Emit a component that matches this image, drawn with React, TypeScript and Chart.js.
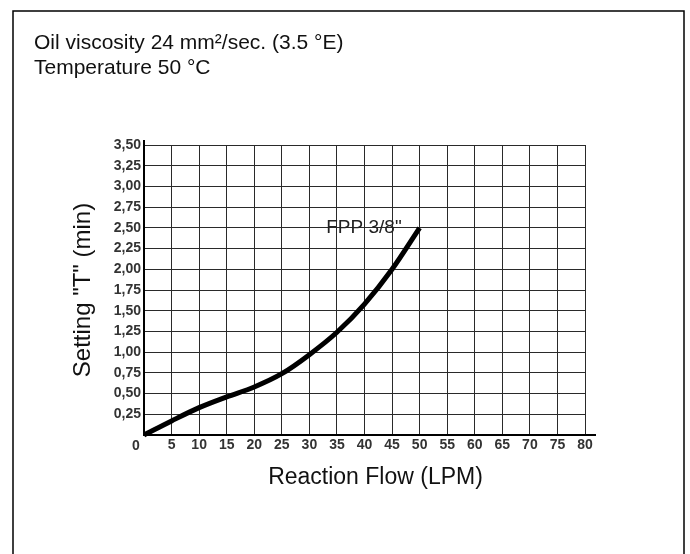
import React, { useEffect, useRef } from 'react';
import { Chart, registerables } from 'chart.js';

Chart.register(...registerables);

// ---- data ----
const flowLPM = [0, 5, 10, 15, 20, 25, 30, 35, 40, 45, 50];
const settingT = [0, 0.17, 0.33, 0.46, 0.58, 0.74, 0.97, 1.24, 1.58, 2.0, 2.5];
const seriesLabel = 'FPP 3/8"';
const titleLines = ['Oil viscosity 24 mm\u00B2/sec. (3.5 \u00B0E)', 'Temperature 50 \u00B0C'];
const xTitle = 'Reaction Flow (LPM)';
const yTitle = 'Setting "T" (min)';
const xMin = 0;
const xMax = 80;
const xStep = 5;
const yMin = 0;
const yMax = 3.5;
const yStep = 0.25;

const tickFamily = '"Liberation Sans Narrow", "Liberation Sans", Arial, sans-serif';
const fmtY = (v: number) => (v === 0 ? '' : v.toFixed(2).replace('.', ','));
const fmtX = (v: number) => (v === 0 ? '' : String(v));

const decorPlugin = {
  id: 'decor',
  beforeDraw(chart: any) {
    const { ctx, width, height } = chart;
    ctx.save();
    ctx.fillStyle = '#ffffff';
    ctx.fillRect(0, 0, width, height);
    ctx.strokeStyle = '#000000';
    ctx.lineWidth = 1.5;
    ctx.strokeRect(13, 11, 671, 620);
    ctx.restore();
  },
  afterDatasetsDraw(chart: any) {
    const { ctx, chartArea, scales } = chart;
    const xs = scales.x;
    const ys = scales.y;
    ctx.save();
    // axis lines
    ctx.strokeStyle = '#000000';
    ctx.lineWidth = 2;
    ctx.beginPath();
    ctx.moveTo(chartArea.left, chartArea.top - 5);
    ctx.lineTo(chartArea.left, chartArea.bottom);
    ctx.lineTo(chartArea.right + 11, chartArea.bottom);
    ctx.stroke();
    // shared origin label
    ctx.fillStyle = '#333333';
    ctx.font = 'bold 14px ' + tickFamily;
    ctx.textAlign = 'center';
    ctx.textBaseline = 'middle';
    ctx.fillText('0', chartArea.left - 8, chartArea.bottom + 11);
    // series label near curve end
    const lastX = flowLPM[flowLPM.length - 1];
    const lastY = settingT[settingT.length - 1];
    ctx.font = '19px "Liberation Sans", Arial, sans-serif';
    ctx.fillStyle = '#222222';
    ctx.textAlign = 'right';
    ctx.textBaseline = 'alphabetic';
    ctx.fillText(seriesLabel, xs.getPixelForValue(lastX) - 18, ys.getPixelForValue(lastY) + 5);
    // x-axis title (slightly right of plot centre, as in the reference)
    ctx.font = '23px "Liberation Sans", Arial, sans-serif';
    ctx.fillStyle = '#111111';
    ctx.textAlign = 'center';
    ctx.textBaseline = 'middle';
    ctx.fillText(xTitle, (chartArea.left + chartArea.right) / 2 + 11, chartArea.bottom + 43);
    // header text
    ctx.font = '21px "Liberation Sans", Arial, sans-serif';
    ctx.textAlign = 'left';
    ctx.textBaseline = 'alphabetic';
    ctx.fillText(titleLines[0], 34, 49);
    ctx.fillText(titleLines[1], 34, 74);
    ctx.restore();
  },
};

export default function App() {
  const ref = useRef<HTMLCanvasElement | null>(null);
  useEffect(() => {
    if (!ref.current) return;
    Chart.defaults.font.family = '"Liberation Sans", Arial, sans-serif';
    const chart = new Chart(ref.current, {
      type: 'scatter',
      data: {
        datasets: [
          {
            label: seriesLabel,
            data: flowLPM.map((x, i) => ({ x, y: settingT[i] })),
            showLine: true,
            borderColor: '#000000',
            backgroundColor: '#000000',
            borderWidth: 5,
            pointRadius: 0,
            cubicInterpolationMode: 'monotone',
            clip: false as any,
          } as any,
        ],
      },
      options: {
        animation: false,
        responsive: false,
        layout: { padding: { left: 60, top: 145, right: 105, bottom: 59 } },
        plugins: { legend: { display: false }, tooltip: { enabled: false } },
        scales: {
          x: {
            type: 'linear',
            min: xMin,
            max: xMax,
            afterFit: (s: any) => {
              s.height = 60;
            },
            ticks: {
              stepSize: xStep,
              autoSkip: false,
              maxRotation: 0,
              padding: 2,
              color: '#333333',
              font: { size: 14, weight: 'bold', family: tickFamily },
              callback: (v: any) => fmtX(Number(v)),
            },
            grid: { color: '#2a2a2a', lineWidth: 1, drawTicks: false },
            border: { display: false },
            title: { display: false, text: xTitle },
          },
          y: {
            type: 'linear',
            min: yMin,
            max: yMax,
            afterFit: (s: any) => {
              s.width = 84;
            },
            ticks: {
              stepSize: yStep,
              autoSkip: false,
              padding: 3,
              color: '#333333',
              font: { size: 14, weight: 'bold', family: tickFamily },
              callback: (v: any) => fmtY(Number(v)),
            },
            grid: { color: '#2a2a2a', lineWidth: 1, drawTicks: false },
            border: { display: false },
            title: {
              display: true,
              text: yTitle,
              color: '#111111',
              font: { size: 24 },
              padding: { top: 9, bottom: 4 },
            },
          },
        },
      },
      plugins: [decorPlugin],
    });
    return () => chart.destroy();
  }, []);
  return (
    <div style={{ position: 'fixed', left: 0, top: 0, width: 690, height: 554, background: '#fff' }}>
      <canvas ref={ref} width={690} height={554} style={{ display: 'block' }} />
    </div>
  );
}
